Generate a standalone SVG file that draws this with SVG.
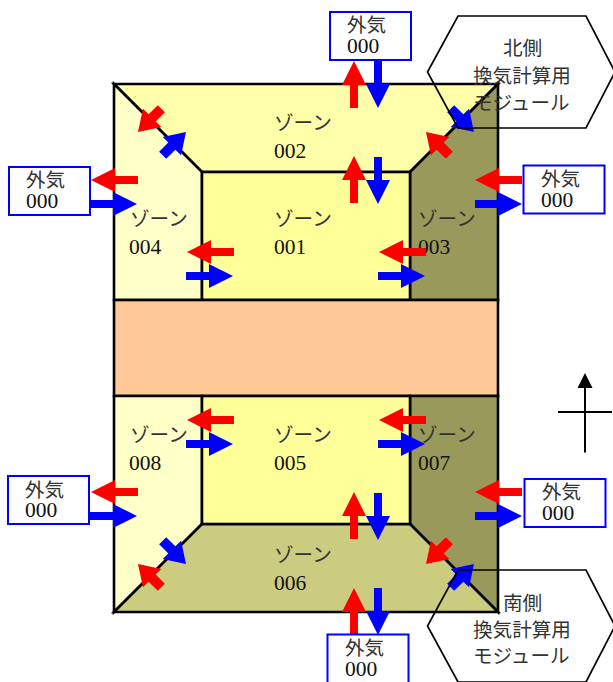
<svg xmlns="http://www.w3.org/2000/svg" width="613" height="682" viewBox="0 0 613 682">
<style>
.z{stroke:#000;stroke-width:2.6;stroke-linejoin:miter}
.box{fill:#fff;stroke:#0000ff;stroke-width:2}
.hex{fill:none;stroke:#000;stroke-width:1.7}
.t{font-family:"Noto Sans CJK JP","Liberation Serif",sans-serif;font-size:19.6px;fill:#333}
.n{font-family:"Liberation Serif","Noto Sans CJK JP",serif;font-size:21.5px;fill:#111}
.r{fill:#ff0000}.b{fill:#0000ff}
</style>
<defs>
<polygon id="a" points="-47,-4 -24,-4 -24,-12 0,0 -24,12 -24,4 -47,4"/>
<polygon id="d" points="-33,-5 -20,-5 -20,-13 0,0 -20,13 -20,5 -33,5"/>
</defs>
<rect width="613" height="682" fill="#fff"/>
<g id="zone-002"><polygon class="z" fill="#ffffaa" points="114,84 498,84 410,172 202,172"/><text class="t" x="274" y="130">ゾーン</text><text class="n" x="274" y="158">002</text></g>
<g id="zone-004"><polygon class="z" fill="#ffffc8" points="114,84 202,172 202,300 114,300"/><text class="t" x="130" y="226">ゾーン</text><text class="n" x="129" y="254">004</text></g>
<g id="zone-003"><polygon class="z" fill="#99995c" points="498,84 498,300 410,300 410,172"/><text class="t" x="418" y="226">ゾーン</text><text class="n" x="418" y="254">003</text></g>
<g id="zone-001"><rect class="z" fill="#ffff99" x="202" y="172" width="208" height="128"/><text class="t" x="274" y="226">ゾーン</text><text class="n" x="274" y="254">001</text></g>
<g id="core"><rect class="z" fill="#ffc896" x="114" y="300" width="384" height="96"/></g>
<g id="zone-008"><polygon class="z" fill="#ffffc8" points="114,396 202,396 202,524 114,612"/><text class="t" x="130" y="442">ゾーン</text><text class="n" x="129" y="470">008</text></g>
<g id="zone-007"><polygon class="z" fill="#99995c" points="410,396 498,396 498,612 410,524"/><text class="t" x="418" y="442">ゾーン</text><text class="n" x="418" y="470">007</text></g>
<g id="zone-006"><polygon class="z" fill="#cccc80" points="202,524 410,524 498,612 114,612"/><text class="t" x="274" y="562">ゾーン</text><text class="n" x="274" y="590">006</text></g>
<g id="zone-005"><rect class="z" fill="#ffff99" x="202" y="396" width="208" height="128"/><text class="t" x="274" y="442">ゾーン</text><text class="n" x="274" y="470">005</text></g>
<g id="connectors">
<use href="#a" class="r" transform="translate(354,61) rotate(-90)"/>
<use href="#a" class="b" transform="translate(378,108) rotate(90)"/>
<use href="#a" class="r" transform="translate(354,156) rotate(-90)"/>
<use href="#a" class="b" transform="translate(378,204) rotate(90)"/>
<use href="#a" class="r" transform="translate(354,492) rotate(-90)"/>
<use href="#a" class="b" transform="translate(378,540) rotate(90)"/>
<use href="#a" class="r" transform="translate(354,588) rotate(-90)"/>
<use href="#a" class="b" transform="translate(378,635) rotate(90)"/>
<use href="#a" class="r" transform="translate(91,180) rotate(180)"/>
<use href="#a" class="b" transform="translate(137,204)"/>
<use href="#a" class="r" transform="translate(91,492) rotate(180)"/>
<use href="#a" class="b" transform="translate(137,516)"/>
<use href="#a" class="r" transform="translate(187,252) rotate(180)"/>
<use href="#a" class="b" transform="translate(233,276)"/>
<use href="#a" class="r" transform="translate(187,420) rotate(180)"/>
<use href="#a" class="b" transform="translate(233,444)"/>
<use href="#a" class="r" transform="translate(379,252) rotate(180)"/>
<use href="#a" class="b" transform="translate(425,276)"/>
<use href="#a" class="r" transform="translate(379,420) rotate(180)"/>
<use href="#a" class="b" transform="translate(425,444)"/>
<use href="#a" class="r" transform="translate(475,180) rotate(180)"/>
<use href="#a" class="b" transform="translate(522,204)"/>
<use href="#a" class="r" transform="translate(475,492) rotate(180)"/>
<use href="#a" class="b" transform="translate(522,516)"/>
<use href="#d" class="r" transform="translate(138,132) rotate(135)"/>
<use href="#d" class="b" transform="translate(186,132) rotate(-45)"/>
<use href="#d" class="r" transform="translate(426,132) rotate(-135)"/>
<use href="#d" class="b" transform="translate(474,132) rotate(45)"/>
<use href="#d" class="b" transform="translate(186,564) rotate(45)"/>
<use href="#d" class="r" transform="translate(138,564) rotate(-135)"/>
<use href="#d" class="r" transform="translate(426,564) rotate(135)"/>
<use href="#d" class="b" transform="translate(474,564) rotate(-45)"/>
</g>
<g id="air-n"><rect class="box" x="330" y="12" width="81" height="48"/><text class="t" x="347" y="32">外気</text><text class="n" x="347" y="53">000</text></g>
<g id="air-ne"><rect class="box" x="523.500" y="165.500" width="81" height="48"/><text class="t" x="541" y="186">外気</text><text class="n" x="541" y="207">000</text></g>
<g id="air-nw"><rect class="box" x="9" y="167" width="81" height="48"/><text class="t" x="26" y="187">外気</text><text class="n" x="26" y="208">000</text></g>
<g id="air-sw"><rect class="box" x="8" y="476" width="81" height="48"/><text class="t" x="25" y="497">外気</text><text class="n" x="25" y="517">000</text></g>
<g id="air-se"><rect class="box" x="524.500" y="479" width="81" height="48"/><text class="t" x="542" y="499">外気</text><text class="n" x="542" y="520">000</text></g>
<g id="air-s"><rect class="box" x="327.500" y="634.500" width="81" height="50"/><text class="t" x="345" y="655">外気</text><text class="n" x="345" y="676">000</text></g>
<g id="module-n"><polygon class="hex" points="427.500,72 458,16 586,16 615,72 586,128 458,128"/><text class="t" x="503" y="55">北側</text><text class="t" x="473" y="83">換気計算用</text><text class="t" x="473" y="110">モジュール</text></g>
<g id="module-s"><polygon class="hex" points="427.500,626 458,570 586,570 615,626 586,682 458,682"/><text class="t" x="503" y="610">南側</text><text class="t" x="473" y="637">換気計算用</text><text class="t" x="473" y="663">モジュール</text></g>
<g id="north"><polygon fill="#000" points="585,373 577.500,388 592.500,388"/><path d="M585,388V452.500M558,412H612" stroke="#000" stroke-width="2" fill="none"/></g>
</svg>
